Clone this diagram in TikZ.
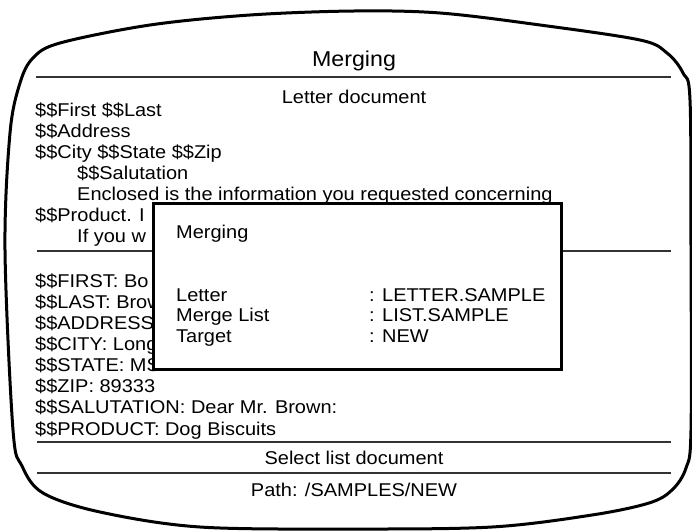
\documentclass[tikz,border=0pt]{standalone}
\usepackage{fontspec}
\setmainfont[FakeStretch=1.08]{Liberation Sans}
\usetikzlibrary{positioning}

\begin{document}
\begin{tikzpicture}[x=1pt,y=-1pt,
  frame/.style={line width=3pt, line join=round},
  rule/.style={line width=1.3pt, black!80},
  screentext/.style={anchor=base west, inner sep=0pt, font=\fontsize{18.5}{21}\selectfont},
  centretext/.style={screentext, anchor=base},
  heading/.style={centretext, font=\fontsize{21.5}{24}\selectfont},
  popup/.style={draw, line width=2.5pt, fill=white, inner sep=0pt, anchor=north west,
    minimum width=408pt, minimum height=166pt},
]
\useasboundingbox (0,0) rectangle (692,530);

% screen outline
\draw[frame] plot[smooth cycle, tension=0.55] coordinates {
  (60,43) (150,25) (250,15) (354,11) (440,13) (540,25) (640,40) (667,53) (683,73)
  (690,100) (691,250) (691,430) (686,468) (672,490) (649,503) (592,515) (492,527)
  (354,529) (200,527) (100,512) (43,493) (22,466) (13,430) (5,250) (10,133) (20,83) (33,58)};

% rules
\draw[rule] (36,77) -- (671,77);
\draw[rule] (37,251) -- (671,251);
\draw[rule] (37,442) -- (671,442);
\draw[rule] (37,473) -- (671,473);

\node (title) [heading] at (354,66.5) {Merging};
\node (letdoc) [centretext] at (354,103) {Letter document};

% letter document
\node (l1) [screentext] at (35,116.3) {\$\$First \$\$Last};
\node (l2) [screentext] at (35,137.4) {\$\$Address};
\node (l3) [screentext] at (35,158.4) {\$\$City \$\$State \$\$Zip};
\node (l4) [screentext] at (77,179.5) {\$\$Salutation};
\node (l5) [screentext] at (77,200.5) {Enclosed is the information you requested concerning};
\node (l6) [screentext] at (35,221.6) {\$\$Product. I};
\node (l7) [screentext] at (77,242.6) {If you w};

% list document
\node (f1) [screentext] at (35,287.6) {\$\$FIRST: Bo};
\node (f2) [screentext] at (35,308.7) {\$\$LAST: Brow};
\node (f3) [screentext] at (35,329.7) {\$\$ADDRESS:};
\node (f4) [screentext] at (35,350.8) {\$\$CITY: Long};
\node (f5) [screentext] at (35,371.8) {\$\$STATE: MS};
\node (f6) [screentext] at (35,392.9) {\$\$ZIP: 89333};
\node (f7) [screentext] at (35,413.9) {\$\$SALUTATION: Dear Mr. Brown:};
\node (f8) [screentext] at (35,435.0) {\$\$PRODUCT: Dog Biscuits};

\node (hint) [centretext] at (354,464.6) {Select list document};
\node (path) [centretext] at (354,496.6) {Path: /SAMPLES/NEW};

% merging box
\node (popup) [popup] at (152,202) {};
\node (ptitle) [screentext] at (176,238.6) {Merging};
\node (plet) [screentext] at (176,301.1) {Letter};
\node (plist) [screentext] at (176,321.9) {Merge List};
\node (ptgt) [screentext] at (176,342.6) {Target};
\node (vlet) [screentext] at (369,301.1) {: LETTER.SAMPLE};
\node (vlist) [screentext] at (369,321.9) {: LIST.SAMPLE};
\node (vtgt) [screentext] at (369,342.6) {: NEW};
\end{tikzpicture}
\end{document}
